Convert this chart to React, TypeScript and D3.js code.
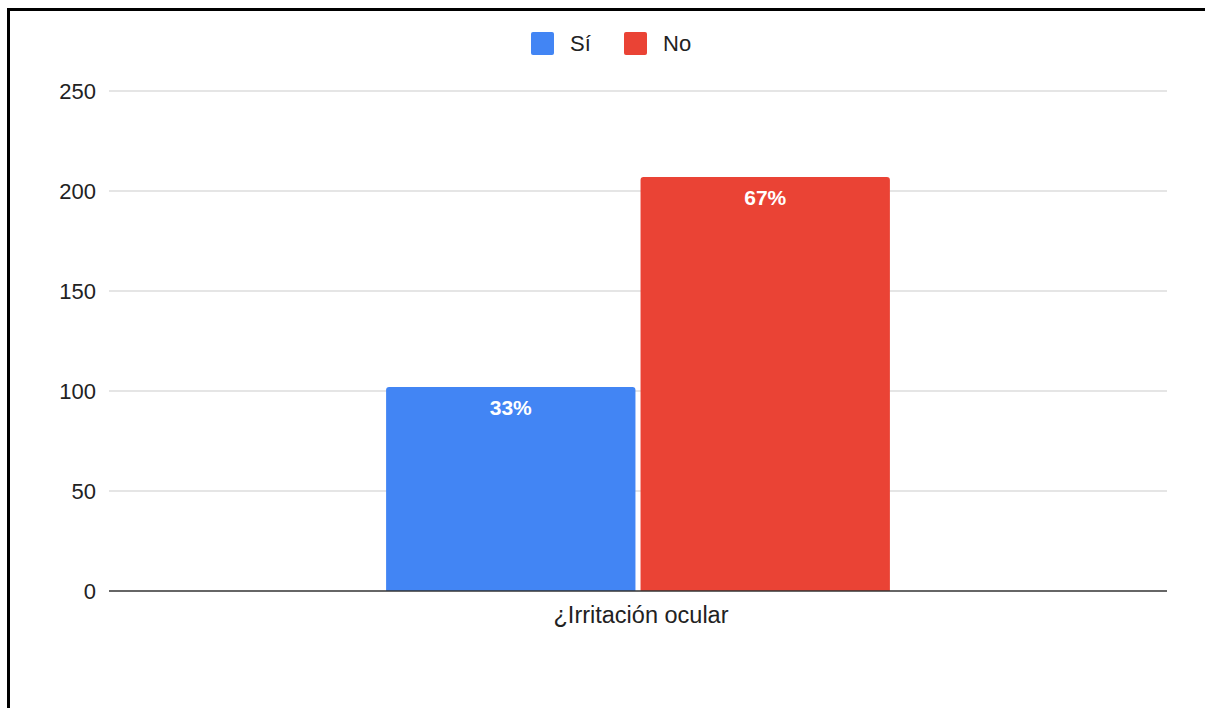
import React from "react";
import * as d3 from "d3";

const categories = ["¿Irritación ocular"];
const seriesNames = ["Sí", "No"];
const seriesColors = ["#4285F4", "#EA4335"];
const valuesSi = [102];
const valuesNo = [207];
const yTicks = [0, 50, 100, 150, 200, 250];

const W = 1205;
const H = 708;
const margin = { left: 109, right: 38, top: 91, bottom: 117 };

export default function App() {
  const x0 = d3
    .scaleBand<string>()
    .domain(categories)
    .range([margin.left, W - margin.right])
    .paddingInner(0)
    .paddingOuter(0.55);
  const x1 = d3
    .scaleBand<string>()
    .domain(seriesNames)
    .range([0, x0.bandwidth()])
    .paddingInner(0.02);
  const y = d3
    .scaleLinear()
    .domain([0, 250])
    .range([H - margin.bottom, margin.top]);

  const series = [valuesSi, valuesNo];
  const font = "'Liberation Sans', Arial, Helvetica, sans-serif";

  return (
    <svg
      width={W}
      height={H}
      style={{ position: "absolute", left: 0, top: 0, background: "#fff" }}
    >
      <rect x={0} y={0} width={W} height={H} fill="#fff" />
      {/* frame */}
      <line x1={8.5} y1={9.5} x2={8.5} y2={H} stroke="#000" strokeWidth={3} />
      <line x1={7} y1={9.5} x2={W} y2={9.5} stroke="#000" strokeWidth={3} />

      {/* gridlines */}
      {yTicks.map((t) => (
        <g key={t}>
          {t !== 0 && (
            <line
              x1={margin.left}
              x2={W - margin.right}
              y1={y(t)}
              y2={y(t)}
              stroke="#cccccc"
              strokeWidth={1.2}
            />
          )}
          <text
            x={96}
            y={y(t) + 7.5}
            textAnchor="end"
            fontFamily={font}
            fontSize={22}
            fill="#222"
          >
            {t}
          </text>
        </g>
      ))}

      {/* bars */}
      {categories.map((c, ci) =>
        seriesNames.map((s, si) => {
          const v = series[si][ci];
          const total = series.reduce((a, arr) => a + arr[ci], 0);
          const bx = (x0(c) ?? 0) + (x1(s) ?? 0);
          const bw = x1.bandwidth();
          const top = y(v);
          const r = 3;
          const path = `M${bx},${y(0)} V${top + r} Q${bx},${top} ${bx + r},${top} H${
            bx + bw - r
          } Q${bx + bw},${top} ${bx + bw},${top + r} V${y(0)} Z`;
          return (
            <g key={s}>
              <path d={path} fill={seriesColors[si]} />
              <text
                x={bx + bw / 2}
                y={top + 28}
                textAnchor="middle"
                fontFamily={font}
                fontSize={21}
                fontWeight="bold"
                fill="#fff"
              >
                {Math.round((v / total) * 100) + "%"}
              </text>
            </g>
          );
        })
      )}

      {/* baseline */}
      <line
        x1={margin.left}
        x2={W - margin.right}
        y1={y(0)}
        y2={y(0)}
        stroke="#333"
        strokeWidth={1.5}
      />

      {/* category labels */}
      {categories.map((c) => (
        <text
          key={c}
          x={(x0(c) ?? 0) + x0.bandwidth() / 2 + 3}
          y={623}
          textAnchor="middle"
          fontFamily={font}
          fontSize={23.5}
          fill="#222"
        >
          {c}
        </text>
      ))}

      {/* legend */}
      {seriesNames.map((s, i) => {
        const lx = [531, 624][i];
        return (
          <g key={s}>
            <rect x={lx} y={32} width={23} height={23} rx={2} fill={seriesColors[i]} />
            <text
              x={lx + 39}
              y={51}
              fontFamily={font}
              fontSize={22}
              fill="#222"
            >
              {s}
            </text>
          </g>
        );
      })}
    </svg>
  );
}
